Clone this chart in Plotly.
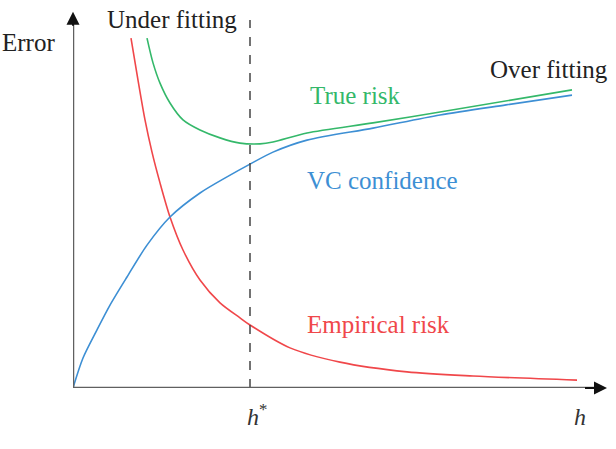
import plotly.graph_objects as go

# Model complexity h (arbitrary units) and error values
emp_h = [11.6, 13.0, 14.4, 15.8, 17.4, 19.4, 22.0, 25.4, 29.4, 33.4, 35.4, 43.4, 53.4, 66.8, 80.0, 100.8]
emp_e = [93.3, 82.1, 71.5, 62.9, 54.7, 45.6, 36.8, 28.8, 22.7, 18.7, 16.8, 10.7, 6.9, 4.3, 3.2, 2.1]

vc_h = [0.0, 2.0, 4.8, 7.4, 10.8, 14.8, 19.4, 25.4, 30.8, 35.4, 40.0, 46.8, 60.0, 73.4, 86.6, 99.8]
vc_e = [0.0, 8.0, 15.5, 22.1, 29.6, 38.1, 45.6, 52.0, 56.3, 59.7, 62.9, 66.1, 69.3, 72.8, 75.5, 78.1]

true_h = [14.8, 16.0, 17.4, 19.4, 22.0, 25.4, 29.4, 33.4, 37.4, 40.0, 46.8, 60.0, 73.4, 99.8]
true_e = [93.3, 86.7, 81.3, 76.0, 71.5, 68.8, 66.7, 65.3, 65.1, 65.6, 68.0, 70.7, 73.6, 79.5]

h_star = 35.4
x_max = 106.8
y_max = 100.3

RED = "#f0474a"
GREEN = "#34b86a"
BLUE = "#3d8fd4"
AXIS = "#606060"
FONT = "Liberation Serif, Times New Roman, serif"

fig = go.Figure()
for hx, ey, col in [(emp_h, emp_e, RED), (vc_h, vc_e, BLUE), (true_h, true_e, GREEN)]:
    fig.add_trace(go.Scatter(x=hx, y=ey, mode="lines",
                             line=dict(color=col, width=1.6, shape="spline", smoothing=0.8),
                             hoverinfo="skip"))

def label(text, x, y, color, size=25):
    fig.add_annotation(x=x, y=y, xref="paper", yref="paper",
                       text=text, showarrow=False,
                       xanchor="left", yanchor="middle",
                       font=dict(family=FONT, size=size, color=color))

# paper coordinates: x = (px - 73) / 540, y = (388 - py) / 380
label("Error", -0.135, 0.908, "#222222")
label("Under fitting", 0.060, 0.971, "#222222")
label("Over fitting", 0.769, 0.837, "#222222")
label("True risk", 0.435, 0.771, GREEN)
label("VC confidence", 0.430, 0.547, BLUE)
label("Empirical risk", 0.430, 0.166, RED)
label("<i>h</i><sup>*</sup>", 0.319, -0.071, "#333333", size=24)
label("<i>h</i>", 0.924, -0.076, "#333333", size=24)

# dashed h* line
fig.add_shape(type="line", x0=h_star, x1=h_star, y0=0, y1=98.1, xref="x", yref="y",
              line=dict(color="#444444", width=1.5, dash="dash"))

# axes lines
fig.add_shape(type="line", x0=0, x1=x_max - 2, y0=0, y1=0, xref="x", yref="y",
              line=dict(color=AXIS, width=2.5))
fig.add_shape(type="line", x0=0, x1=0, y0=0, y1=y_max - 3, xref="x", yref="y",
              line=dict(color=AXIS, width=2.5))
# arrow heads
fig.add_annotation(x=x_max, y=0, ax=x_max - 5, ay=0, xref="x", yref="y", axref="x", ayref="y",
                   showarrow=True, arrowhead=2, arrowsize=1.3, arrowwidth=2, arrowcolor="#111111", text=" ")
fig.add_annotation(x=0, y=y_max, ax=0, ay=y_max - 6, xref="x", yref="y", axref="x", ayref="y",
                   showarrow=True, arrowhead=2, arrowsize=1.3, arrowwidth=2, arrowcolor="#111111", text=" ")

fig.update_layout(
    width=616, height=449,
    margin=dict(l=73, r=3, t=8, b=61),
    paper_bgcolor="white", plot_bgcolor="white",
    font=dict(family=FONT),
    showlegend=False,
    xaxis=dict(range=[0, 108], visible=False, fixedrange=True),
    yaxis=dict(range=[0, 101.33], visible=False, fixedrange=True),
)

fig.write_html("out.html")
